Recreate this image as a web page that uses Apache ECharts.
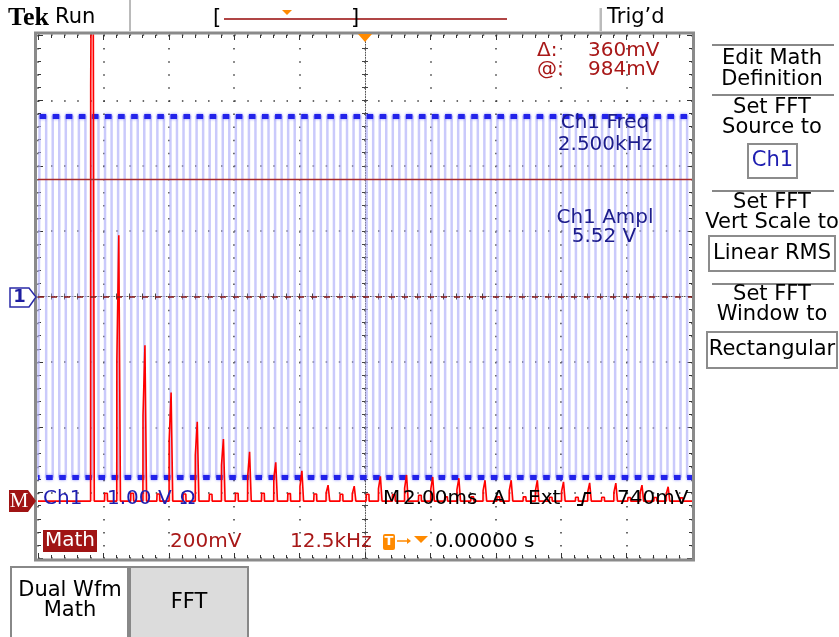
<!DOCTYPE html>
<html lang="en">
<head>
<meta charset="UTF-8">
<title>Tek FFT</title>
<script src="https://cdn.jsdelivr.net/npm/echarts@6/dist/echarts.min.js"></script>
<style>
  html, body { margin: 0; padding: 0; background: #fff; }
  #main { width: 839px; height: 637px; }
</style>
</head>
<body>
<div id="main"></div>
<script>
// Ch1 square wave: edge times in ms from the left edge (2.00 ms/div, 10 div)
var ch1Rise = [0.05, 0.45, 0.85, 1.25, 1.65, 2.05, 2.45, 2.85, 3.25, 3.65,
  4.05, 4.45, 4.85, 5.25, 5.65, 6.05, 6.45, 6.85, 7.25, 7.65,
  8.05, 8.45, 8.85, 9.25, 9.65, 10.05, 10.45, 10.85, 11.25, 11.65,
  12.05, 12.45, 12.85, 13.25, 13.65, 14.05, 14.45, 14.85, 15.25, 15.65,
  16.05, 16.45, 16.85, 17.25, 17.65, 18.05, 18.45, 18.85, 19.25, 19.65];
var ch1Fall = [0.25, 0.65, 1.05, 1.45, 1.85, 2.25, 2.65, 3.05, 3.45, 3.85,
  4.25, 4.65, 5.05, 5.45, 5.85, 6.25, 6.65, 7.05, 7.45, 7.85,
  8.25, 8.65, 9.05, 9.45, 9.85, 10.25, 10.65, 11.05, 11.45, 11.85,
  12.25, 12.65, 13.05, 13.45, 13.85, 14.25, 14.65, 15.05, 15.45, 15.85,
  16.25, 16.65, 17.05, 17.45, 17.85, 18.25, 18.65, 19.05, 19.45, 19.85];
var ch1Levels = [-2.76, 2.76];   // V (low, high)

// FFT (Math): odd harmonics, kHz and mV rms (first one is off screen)
var fftHarmKHz = [2.5, 7.5, 12.5, 17.5, 22.5, 27.5, 32.5, 37.5, 42.5, 47.5, 52.5, 57.5,
  62.5, 67.5, 72.5, 77.5, 82.5, 87.5, 92.5, 97.5, 102.5, 107.5, 112.5];
var fftPeakMv = [2480, 813, 477, 332, 243, 190, 151, 119, 93, 49, 46, 76,
  80, 74, 70, 64, 64, 64, 59, 56, 55, 49, 44];
var fftSideMv = [1270, 431, 263, 187, 141, 110, 73, 70, 45, 25, 23, 38,
  40, 37, 35, 32, 32, 32, 30, 28, 27, 25, 22];
// small bumps at the even harmonics
var fftEvenKHz = [5, 10, 15, 20, 25, 30, 35, 40, 45, 50, 55, 60,
  65, 70, 75, 80, 85, 90, 95, 100, 105, 110, 115];
var fftEvenMv = [24, 24, 22, 22, 21, 24, 24, 23, 22, 21, 21, 20,
  18, 13, 13, 13, 13, 12, 12, 12, 11, 11, 10];

// cursors on Math (mV)
var cursorMv = [984, 624];

// scale settings
var ch1VoltsPerDiv = 1.0;
var mathMvPerDiv = 200;
var mathRefDiv = -3.13;     // math reference position in divisions
var timeMsPerDiv = 2.0;
var fftKHzPerDiv = 12.5;
var fftStartKHz = -8;

// ---- build series data ----
var squareData = [[0, ch1Levels[0]]];
var highSegs = [], lowSegs = [];
for (var i = 0; i < ch1Rise.length; i++) {
  squareData.push([ch1Rise[i], ch1Levels[0]], [ch1Rise[i], ch1Levels[1]],
    [ch1Fall[i], ch1Levels[1]], [ch1Fall[i], ch1Levels[0]]);
  highSegs.push({ coords: [[ch1Rise[i], ch1Levels[1]], [ch1Fall[i], ch1Levels[1]]] });
  var nxt = i + 1 < ch1Rise.length ? ch1Rise[i + 1] : 10 * timeMsPerDiv;
  lowSegs.push({ coords: [[ch1Fall[i], ch1Levels[0]], [nxt, ch1Levels[0]]] });
}
lowSegs.push({ coords: [[0, ch1Levels[0]], [ch1Rise[0], ch1Levels[0]]] });
squareData.push([10 * timeMsPerDiv, ch1Levels[0]]);

var fftData = [[fftStartKHz, 0]];
for (var k = 0; k < fftHarmKHz.length; k++) {
  var f = fftHarmKHz[k];
  // leakage bin just below, then the peak bin
  fftData.push([f - 0.45, 0], [f - 0.43, fftSideMv[k]], [f - 0.08, fftSideMv[k]],
    [f - 0.06, fftPeakMv[k]], [f + 0.22, fftPeakMv[k]], [f + 0.26, 0]);
  var e = fftEvenKHz[k];
  fftData.push([e - 0.3, 0], [e - 0.25, fftEvenMv[k]], [e + 0.25, fftEvenMv[k]], [e + 0.3, 0]);
}
fftData.push([fftStartKHz + 10 * fftKHzPerDiv, 0]);

// ---- chart ----
var myChart = echarts.init(document.getElementById('main'), null, { renderer: 'canvas' });

var font = '"DejaVu Sans", sans-serif';
var dotStyle = { color: '#3a3a3a', width: 1.5, type: [1.5, 11.58] };

function txt(x, y, s, color, size, align, weight, family) {
  return {
    type: 'text', x: x, y: y, z: 100,
    style: {
      text: s, fill: color,
      font: (weight || 'normal') + ' ' + (size || 19.5) + 'px ' + (family || font),
      textAlign: align || 'left', textVerticalAlign: 'middle'
    }
  };
}
function box(x, y, w, h, fill, stroke) {
  return { type: 'rect', z: 90, shape: { x: x, y: y, width: w, height: h },
    style: { fill: fill, stroke: stroke || null, lineWidth: 2 } };
}
function hline(x1, x2, y, color, w) {
  return { type: 'line', z: 90, shape: { x1: x1, y1: y, x2: x2, y2: y },
    style: { stroke: color, lineWidth: w || 1 } };
}
function vline(x, y1, y2, color, w) {
  return { type: 'line', z: 90, shape: { x1: x, y1: y1, x2: x, y2: y2 },
    style: { stroke: color, lineWidth: w || 1 } };
}
function ruler(pos, dim) {
  return {
    type: 'value', min: dim === 'x' ? -5 : -4, max: dim === 'x' ? 5 : 4, interval: 1,
    position: pos,
    axisLine: { show: false, onZero: false },
    axisTick: { show: true, inside: true, length: 5, lineStyle: { color: '#333' } },
    minorTick: { show: true, splitNumber: 5, length: 3, lineStyle: { color: '#333' } },
    axisLabel: { show: false }, splitLine: { show: false }
  };
}

var red = '#a81818', navy = '#1c1c8c', blue = '#1e1eb0', orange = '#ff8a00';

var graphics = [
  // top bar
  txt(8, 18, 'Tek', '#000', 26, 'left', 'bold', '"Liberation Serif", serif'),
  txt(55, 18, 'Run', '#000', 21),
  vline(130, 0, 31, '#777', 1),
  txt(213, 19, '[', '#000', 21),
  txt(351, 19, ']', '#000', 21),
  hline(224, 507, 19, '#b04545', 2),
  { type: 'polygon', z: 95, shape: { points: [[282, 10], [292, 10], [287, 15]] }, style: { fill: orange } },
  { type: 'rect', z: 90, shape: { x: 599.5, y: 8, width: 2.5, height: 23 }, style: { fill: '#bbb' } },
  txt(607, 18, 'Trig\u2019d', '#000', 21),
  // screen frame
  { type: 'rect', z: 80, shape: { x: 35.5, y: 33, width: 658, height: 527 },
    style: { fill: null, stroke: '#8a8a8a', lineWidth: 3 } },
  { type: 'polygon', z: 95, shape: { points: [[358, 34], [372, 34], [365, 42]] }, style: { fill: orange } },
  // ch1 ground marker
  { type: 'polygon', z: 95, shape: { points: [[10, 288], [29, 288], [36, 297], [29, 307], [10, 307]] },
    style: { fill: '#fff', stroke: '#2a2aa8', lineWidth: 1.5 } },
  txt(19.5, 297.5, '1', '#1e1ea0', 18, 'center', 'bold'),
  // math reference marker
  { type: 'polygon', z: 95, shape: { points: [[9, 490], [28, 490], [36, 501], [28, 512], [9, 512]] },
    style: { fill: '#a01414' } },
  txt(19, 501.5, 'M', '#fff', 21, 'center', 'normal', '"Liberation Serif", serif'),
  // cursor readout
  txt(537, 51, '\u0394:', red, 20),
  txt(588, 51, (cursorMv[0] - cursorMv[1]) + 'mV', red, 20),
  txt(537, 70, '@:', red, 20),
  txt(588, 70, cursorMv[0] + 'mV', red, 20),
  // measurements
  txt(605, 123, 'Ch1 Freq', navy, 20, 'center'),
  txt(605, 145, '2.500kHz', navy, 20, 'center'),
  txt(605, 218, 'Ch1 Ampl', navy, 20, 'center'),
  txt(604, 237, '5.52 V', navy, 20, 'center'),
  // status line 1
  txt(43, 499, 'Ch1', blue, 20),
  txt(107, 499, '1.00 V', blue, 20),
  txt(180, 499, '\u03a9', blue, 20),
  txt(383, 499, 'M', '#000', 20),
  txt(403, 499, '2.00ms', '#000', 20),
  txt(492, 499, 'A', '#000', 20),
  txt(528, 499, 'Ext', '#000', 20),
  { type: 'polyline', z: 100, shape: { points: [[577, 505], [582, 505], [585, 493], [591, 493]] },
    style: { stroke: '#000', lineWidth: 2, fill: null } },
  txt(617, 499, '740mV', '#000', 20),
  // status line 2
  box(43, 530, 54, 22, '#a01414'),
  txt(45, 541, 'Math', '#fff', 20),
  txt(170, 542, mathMvPerDiv + 'mV', red, 20),
  txt(290, 542, fftKHzPerDiv + 'kHz', red, 20),
  { type: 'rect', z: 95, shape: { x: 383, y: 534, width: 12, height: 16, r: 2 }, style: { fill: orange } },
  txt(389, 542, 'T', '#fff', 13, 'center', 'bold'),
  hline(397, 410, 541, orange, 1.5),
  { type: 'polygon', z: 95, shape: { points: [[407, 538], [411, 541], [407, 544]] }, style: { fill: orange } },
  { type: 'polygon', z: 95, shape: { points: [[414, 536], [428, 536], [421, 543]] }, style: { fill: orange } },
  txt(435, 542, '0.00000 s', '#000', 20),
  // right menu
  hline(712, 834, 45, '#888', 2),
  txt(772, 59, 'Edit Math', '#000', 21, 'center'),
  txt(772, 80, 'Definition', '#000', 21, 'center'),
  hline(712, 834, 95, '#888', 2),
  txt(772, 108, 'Set FFT', '#000', 21, 'center'),
  txt(772, 128, 'Source to', '#000', 21, 'center'),
  box(748, 144, 49, 34, '#fff', '#8c8c8c'),
  txt(772.5, 161, 'Ch1', '#1e1eb0', 21, 'center'),
  hline(712, 834, 191, '#888', 2),
  txt(772, 203, 'Set FFT', '#000', 21, 'center'),
  txt(772, 223, 'Vert Scale to', '#000', 21, 'center'),
  box(709, 236, 126, 35, '#fff', '#8c8c8c'),
  txt(772, 254, 'Linear RMS', '#000', 21, 'center'),
  hline(712, 834, 284, '#888', 2),
  txt(772, 295, 'Set FFT', '#000', 21, 'center'),
  txt(772, 315, 'Window to', '#000', 21, 'center'),
  box(707, 332, 130, 36, '#fff', '#8c8c8c'),
  txt(772, 350, 'Rectangular', '#000', 21, 'center'),
  // bottom buttons
  box(11, 567, 117, 72, '#fff', '#888'),
  txt(70, 591, 'Dual Wfm', '#000', 21, 'center'),
  txt(70, 611, 'Math', '#000', 21, 'center'),
  box(130, 567, 118, 72, '#dcdcdc', '#888'),
  txt(189, 603, 'FFT', '#000', 21, 'center')
];

var option = {
  backgroundColor: '#fff',
  animation: false,
  grid: { left: 38, top: 35, width: 654, height: 523, show: false },
  xAxis: [
    { // 0: graticule + centre line
      type: 'value', min: -5, max: 5, interval: 1, position: 'bottom',
      axisLine: { show: true, onZero: true, onZeroAxisIndex: 0,
        lineStyle: { color: '#555', width: 1, type: [1, 1.616] } },
      axisTick: { show: true, inside: true, length: 3, lineStyle: { color: '#444' } },
      minorTick: { show: true, splitNumber: 5, length: 3, lineStyle: { color: '#444' } },
      axisLabel: { show: false },
      splitLine: { show: true, lineStyle: dotStyle }
    },
    { // 1: centre ticks, other side
      type: 'value', min: -5, max: 5, interval: 1, position: 'bottom',
      axisLine: { show: false, onZero: true, onZeroAxisIndex: 0 },
      axisTick: { show: true, inside: false, length: 3, lineStyle: { color: '#444' } },
      minorTick: { show: true, splitNumber: 5, length: 3, lineStyle: { color: '#444' } },
      axisLabel: { show: false }, splitLine: { show: false }
    },
    ruler('top', 'x'),
    ruler('bottom', 'x'),
    { // 4: time (ms)
      type: 'value', show: false, min: 0, max: 10 * timeMsPerDiv, position: 'bottom',
      axisLine: { onZero: false }
    },
    { // 5: FFT frequency (kHz)
      type: 'value', show: false, min: fftStartKHz, max: fftStartKHz + 10 * fftKHzPerDiv,
      position: 'bottom', axisLine: { onZero: false }
    }
  ],
  yAxis: [
    { // 0: graticule + centre line
      type: 'value', min: -4, max: 4, interval: 1, position: 'left',
      axisLine: { show: true, onZero: true, onZeroAxisIndex: 0,
        lineStyle: { color: '#555', width: 1, type: [1, 1.616] } },
      axisTick: { show: true, inside: true, length: 3, lineStyle: { color: '#444' } },
      minorTick: { show: true, splitNumber: 5, length: 3, lineStyle: { color: '#444' } },
      axisLabel: { show: false },
      splitLine: { show: true, lineStyle: dotStyle }
    },
    {
      type: 'value', min: -4, max: 4, interval: 1, position: 'left',
      axisLine: { show: false, onZero: true, onZeroAxisIndex: 0 },
      axisTick: { show: true, inside: false, length: 3, lineStyle: { color: '#444' } },
      minorTick: { show: true, splitNumber: 5, length: 3, lineStyle: { color: '#444' } },
      axisLabel: { show: false }, splitLine: { show: false }
    },
    ruler('left', 'y'),
    ruler('right', 'y'),
    { // 4: Ch1 volts
      type: 'value', show: false, min: -4 * ch1VoltsPerDiv, max: 4 * ch1VoltsPerDiv,
      position: 'left', axisLine: { onZero: false }
    },
    { // 5: Math mV
      type: 'value', show: false,
      min: (-4 - mathRefDiv) * mathMvPerDiv, max: (4 - mathRefDiv) * mathMvPerDiv,
      position: 'left', axisLine: { onZero: false }
    }
  ],
  series: [
    { // Ch1 edges (faint)
      type: 'line', xAxisIndex: 4, yAxisIndex: 4, data: squareData,
      showSymbol: false, silent: true, z: 1,
      lineStyle: { color: 'rgba(180,180,250,0.7)', width: 2.5 }
    },
    { // Ch1 high level
      type: 'lines', coordinateSystem: 'cartesian2d', xAxisIndex: 4, yAxisIndex: 4,
      data: highSegs, silent: true, z: 2,
      lineStyle: { color: '#2222ea', width: 5, opacity: 1, shadowBlur: 3, shadowColor: 'rgba(80,80,255,0.7)' }
    },
    { // Ch1 low level
      type: 'lines', coordinateSystem: 'cartesian2d', xAxisIndex: 4, yAxisIndex: 4,
      data: lowSegs, silent: true, z: 2,
      lineStyle: { color: '#2222ea', width: 5, opacity: 1, shadowBlur: 3, shadowColor: 'rgba(80,80,255,0.7)' }
    },
    { // Math FFT
      type: 'line', xAxisIndex: 5, yAxisIndex: 5, data: fftData,
      showSymbol: false, silent: true, z: 4, clip: true,
      lineStyle: { color: '#ff0000', width: 1.6 },
      areaStyle: { color: 'rgba(255,110,110,0.35)', origin: 0 },
      markLine: {
        silent: true, symbol: 'none', label: { show: false },
        data: [
          { yAxis: cursorMv[0], lineStyle: { color: '#a82828', width: 1.3, type: 'solid' } },
          { yAxis: cursorMv[1], lineStyle: { color: '#8b1a1a', width: 1.5, type: [6, 7] } }
        ]
      }
    }
  ],
  graphic: { elements: graphics }
};

myChart.setOption(option);
</script>
</body>
</html>
